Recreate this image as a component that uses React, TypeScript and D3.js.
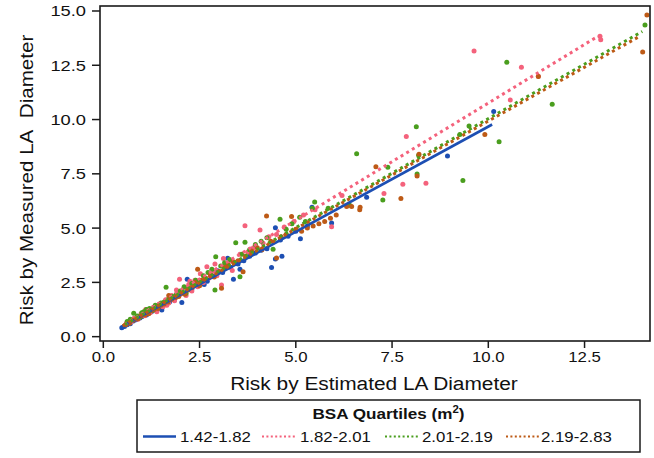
import React from "react";
import * as d3 from "d3";

// Risk computed from the estimated vs. the measured left-atrial diameter,
// one point per patient, grouped by body-surface-area quartile.
const groupLabels = ["1.42-1.82", "1.82-2.01", "2.01-2.19", "2.19-2.83"];
const groupColors = ["#1d4fb3", "#f4627c", "#4a9e1e", "#bd5a16"];
const groupDash = [null, "3 3.6", "3 3.6", "3 3.6"];

const q1Points: [number, number][] = [
  [0.48, 0.41], [0.55, 0.47], [0.62, 0.55], [0.7, 0.6], [0.78, 0.72], [0.85, 0.78],
  [0.95, 0.86], [1.0, 0.92], [1.05, 0.98], [1.12, 1.0], [1.25, 1.15], [1.35, 1.22],
  [1.45, 1.32], [1.52, 1.23], [1.6, 1.52], [1.72, 1.6], [1.85, 1.7], [2.04, 1.57],
  [2.1, 2.05], [2.18, 2.64], [2.3, 2.2], [2.45, 2.35], [2.55, 2.45], [2.62, 2.4],
  [2.7, 2.55], [2.85, 2.78], [2.97, 3.04], [3.1, 2.95], [3.23, 3.61], [3.3, 3.2],
  [3.38, 2.64], [3.5, 3.35], [3.55, 3.1], [3.65, 3.5], [3.8, 3.7], [3.95, 3.85],
  [4.1, 3.98], [4.25, 4.05], [4.37, 3.18], [4.47, 3.58], [4.64, 3.7], [4.47, 5.02],
  [4.6, 4.45], [4.8, 4.62], [5.0, 4.85], [5.12, 4.51], [5.3, 5.1], [5.42, 5.96],
  [5.93, 5.24], [6.84, 6.42], [8.94, 8.32], [10.14, 10.37],
];

const q2Points: [number, number][] = [
  [0.6, 0.62], [0.72, 0.68], [0.8, 0.85], [0.9, 0.8], [0.98, 1.05], [1.08, 0.96],
  [1.1, 1.25], [1.15, 1.2], [1.22, 1.1], [1.3, 1.35], [1.39, 1.15], [1.45, 1.5],
  [1.55, 1.38], [1.62, 1.7], [1.65, 1.45], [1.7, 1.55], [1.78, 1.9], [1.85, 1.65],
  [1.9, 2.15], [1.98, 2.64], [2.0, 1.95], [2.08, 2.2], [2.15, 1.9], [2.22, 2.4],
  [2.25, 2.55], [2.3, 2.1], [2.38, 2.6], [2.45, 2.3], [2.52, 2.9], [2.6, 2.5],
  [2.69, 3.22], [2.75, 2.7], [2.85, 3.0], [2.9, 3.35], [2.95, 2.8], [3.07, 2.38],
  [3.12, 3.6], [3.2, 3.3], [3.3, 3.5], [3.35, 3.05], [3.42, 3.4], [3.55, 3.8],
  [3.68, 5.11], [3.75, 3.9], [3.9, 4.1], [4.07, 4.91], [4.15, 4.3], [4.3, 4.6],
  [4.5, 4.7], [4.7, 5.05], [4.95, 5.3], [5.2, 5.6], [5.5, 5.85], [5.93, 5.06],
  [6.2, 6.5], [7.29, 6.59], [7.78, 7.02], [7.87, 9.22], [8.38, 7.07], [9.63, 13.16],
  [10.57, 10.9], [10.86, 12.41], [11.3, 12.0], [12.9, 13.84], [12.92, 13.68],
];

const q3Points: [number, number][] = [
  [0.62, 0.7], [0.7, 0.8], [0.79, 1.08], [0.88, 0.95], [0.96, 0.9], [1.0, 1.1],
  [1.05, 1.15], [1.12, 1.25], [1.2, 1.3], [1.28, 1.2], [1.35, 1.45], [1.42, 1.4],
  [1.5, 1.55], [1.58, 1.6], [1.63, 2.27], [1.7, 1.75], [1.8, 1.85], [1.9, 1.95],
  [2.0, 2.1], [2.1, 2.3], [2.15, 2.0], [2.2, 2.25], [2.3, 2.45], [2.4, 2.6],
  [2.5, 2.55], [2.6, 2.8], [2.72, 2.95], [2.82, 3.1], [2.9, 2.15], [2.92, 3.68],
  [3.05, 3.25], [3.15, 3.4], [3.28, 3.55], [3.44, 4.33], [3.55, 2.76], [3.6, 3.8],
  [3.68, 4.35], [3.8, 4.0], [3.95, 4.25], [4.1, 4.4], [4.25, 4.55], [4.41, 4.03],
  [4.59, 5.41], [4.75, 4.95], [4.9, 5.2], [5.1, 5.5], [5.25, 5.3], [5.43, 5.91],
  [5.49, 6.2], [5.84, 5.91], [6.4, 6.05], [6.58, 8.43], [7.26, 6.3], [7.39, 7.8],
  [8.13, 9.67], [8.15, 7.49], [8.19, 8.36], [9.26, 9.31], [9.34, 7.19], [9.5, 9.7],
  [10.28, 8.98], [10.48, 12.64], [11.66, 10.71], [14.07, 14.35],
];

const q4Points: [number, number][] = [
  [0.58, 0.55], [0.68, 0.62], [0.78, 0.75], [0.9, 0.82], [0.98, 0.95], [1.08, 1.0],
  [1.18, 1.05], [1.25, 1.2], [1.32, 1.25], [1.42, 1.3], [1.5, 1.45], [1.58, 1.5],
  [1.68, 1.6], [1.7, 1.9], [1.78, 1.72], [1.88, 1.8], [1.96, 1.85], [2.05, 2.0],
  [2.12, 1.95], [2.2, 2.15], [2.3, 2.25], [2.38, 2.5], [2.45, 3.1], [2.5, 2.35],
  [2.55, 2.6], [2.65, 2.7], [2.78, 2.85], [2.88, 2.75], [3.0, 3.0], [3.07, 2.23],
  [3.15, 3.2], [3.25, 3.3], [3.38, 3.45], [3.5, 3.5], [3.63, 2.99], [3.7, 3.7],
  [3.85, 3.95], [4.0, 4.1], [4.12, 4.0], [4.24, 5.56], [4.35, 4.4], [4.5, 3.62],
  [4.62, 4.6], [4.75, 4.7], [4.89, 5.53], [5.0, 4.95], [5.15, 4.85], [5.3, 5.0],
  [5.45, 5.1], [5.6, 5.2], [5.75, 5.3], [5.9, 5.45], [6.05, 5.6], [6.32, 6.0],
  [6.45, 6.0], [6.66, 5.85], [6.67, 5.96], [7.08, 7.83], [7.73, 6.36], [8.15, 7.4],
  [8.2, 8.4], [9.91, 9.31], [11.3, 11.98], [14.01, 13.11], [14.12, 14.81],
];

const groupPoints = [q1Points, q2Points, q3Points, q4Points];

// Linear fit per quartile: y = slope * x + intercept over [fitFrom, fitTo]
const fitSlope = [0.968, 1.08, 1.004, 0.993];
const fitIntercept = [-0.005, -0.04, 0.0, 0.0];
const fitFrom = [0.47, 0.55, 0.55, 0.5];
const fitTo = [10.1, 12.85, 14.0, 13.95];

const xTicks = [0, 2.5, 5, 7.5, 10, 12.5];
const yTicks = [0, 2.5, 5, 7.5, 10, 12.5, 15];
const xDomain = [-0.086, 14.2];
const yDomain = [-0.2, 15.23];

const FONT = "'Liberation Sans', Arial, sans-serif";

const frame = { left: 100, right: 650, top: 6, bottom: 341 };
const legendBox = { left: 137, right: 640, top: 400, bottom: 452 };
const legendSwatchX = [143, 262, 385, 506];
const legendTextX = [180, 300, 422, 541];

function Label(props: {
  x: number; y: number; size: number; sx?: number; rotate?: number;
  anchor?: string; weight?: string; children: React.ReactNode;
}) {
  const { x, y, size, sx = 1, rotate = 0, anchor = "middle", weight = "normal", children } = props;
  return (
    <g transform={`translate(${x},${y}) rotate(${rotate}) scale(${sx},1)`}>
      <text textAnchor={anchor} fontSize={size} fontWeight={weight} fontFamily={FONT} fill="#111">
        {children}
      </text>
    </g>
  );
}

export default function App() {
  const x = d3.scaleLinear().domain(xDomain).range([frame.left, frame.right]);
  const y = d3.scaleLinear().domain(yDomain).range([frame.bottom, frame.top]);

  const legendY = 436.5;

  return (
    <svg width={654} height={458} style={{ position: "absolute", left: 0, top: 0, background: "#fff" }}>
      <defs>
        <clipPath id="plot-clip">
          <rect x={frame.left} y={frame.top} width={frame.right - frame.left} height={frame.bottom - frame.top} />
        </clipPath>
      </defs>

      <g clipPath="url(#plot-clip)">
        {groupPoints.map((pts, gi) => (
          <g key={gi} fill={groupColors[gi]}>
            {pts.map((p, i) => (
              <circle key={i} cx={x(p[0])} cy={y(p[1])} r={2.5} />
            ))}
          </g>
        ))}
        {groupLabels.map((_, gi) => {
          const x0 = fitFrom[gi];
          const x1 = fitTo[gi];
          return (
            <line
              key={gi}
              x1={x(x0)}
              y1={y(fitSlope[gi] * x0 + fitIntercept[gi])}
              x2={x(x1)}
              y2={y(fitSlope[gi] * x1 + fitIntercept[gi])}
              stroke={groupColors[gi]}
              strokeWidth={gi === 0 ? 2.6 : 3}
              strokeDasharray={groupDash[gi] ?? undefined}
            />
          );
        })}
      </g>

      {/* frame */}
      <rect
        x={frame.left} y={frame.top}
        width={frame.right - frame.left} height={frame.bottom - frame.top}
        fill="none" stroke="#1a1a1a" strokeWidth={1.6}
      />

      {/* x axis */}
      {xTicks.map((t) => (
        <g key={t}>
          <line x1={x(t)} x2={x(t)} y1={frame.bottom} y2={frame.bottom + 7} stroke="#1a1a1a" strokeWidth={1.5} />
          <Label x={x(t)} y={362} size={15} sx={1.12}>{t.toFixed(1)}</Label>
        </g>
      ))}
      <Label x={374} y={389.5} size={18} sx={1.16}>Risk by Estimated LA Diameter</Label>

      {/* y axis */}
      {yTicks.map((t) => (
        <g key={t}>
          <line x1={frame.left - 8} x2={frame.left} y1={y(t)} y2={y(t)} stroke="#1a1a1a" strokeWidth={1.5} />
          <Label x={86} y={y(t) + 5.5} size={15} sx={1.22} anchor="end">{t.toFixed(1)}</Label>
        </g>
      ))}
      <Label x={33} y={180} size={18} sx={1.145} rotate={-90}>{"Risk by Measured LA\u00a0 Diameter"}</Label>

      {/* legend */}
      <rect
        x={legendBox.left} y={legendBox.top}
        width={legendBox.right - legendBox.left} height={legendBox.bottom - legendBox.top}
        fill="none" stroke="#1a1a1a" strokeWidth={1.5}
      />
      <Label x={(legendBox.left + legendBox.right) / 2} y={418.5} size={15} sx={1.14} weight="bold">
        <tspan>BSA Quartiles (m</tspan>
        <tspan fontSize={10} dy={-6}>2</tspan>
        <tspan dy={6}>)</tspan>
      </Label>
      {groupLabels.map((lab, gi) => (
        <g key={lab}>
          <line
            x1={legendSwatchX[gi]} x2={legendSwatchX[gi] + 33}
            y1={legendY} y2={legendY}
            stroke={groupColors[gi]}
            strokeWidth={gi === 0 ? 2.6 : 2.2}
            strokeDasharray={gi === 0 ? undefined : "2 2.4"}
          />
          <Label x={legendTextX[gi]} y={442} size={15} sx={1.12} anchor="start">{lab}</Label>
        </g>
      ))}
    </svg>
  );
}
